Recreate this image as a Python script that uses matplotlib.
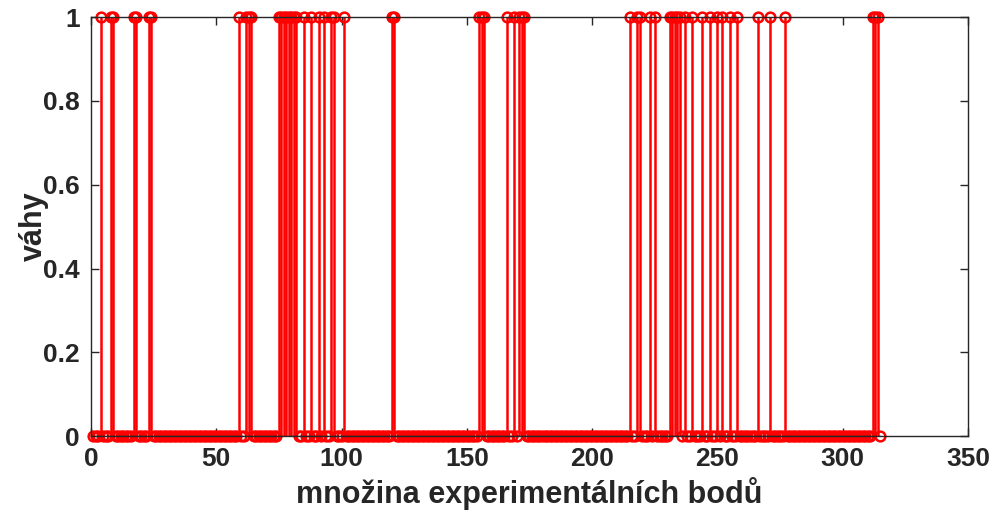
import numpy as np
import matplotlib
matplotlib.use("Agg")
import matplotlib.pyplot as plt

plt.rcParams['font.family'] = ['Liberation Sans', 'DejaVu Sans']

# experimental points and the indices with weight 1
n_points = 315
ones_idx = [4, 8, 9, 17, 18, 23, 24,
            59, 62, 63, 64,
            75, 76, 77, 78, 79, 80, 81, 82, 85, 88, 91, 93, 96, 97, 101,
            120, 121,
            155, 156, 157, 166, 169, 171, 172, 173,
            215, 218, 219, 223, 225,
            231, 232, 233, 234, 235, 237, 240, 244, 247, 250, 252, 255, 258,
            266, 271, 277,
            312, 313, 314]

x_ticks = [0, 50, 100, 150, 200, 250, 300, 350]
y_ticks = [0, 0.2, 0.4, 0.6, 0.8, 1]
y_tick_labels = ['0', '0.2', '0.4', '0.6', '0.8', '1']

x = np.arange(1, n_points + 1)
w = np.zeros(n_points)
w[np.array(ones_idx) - 1] = 1

fig = plt.figure(figsize=(9.99, 5.21), dpi=100)
ax = fig.add_axes([0.091, 0.163, 0.878, 0.804])

markerline, stemlines, baseline = ax.stem(x, w, linefmt='r-', markerfmt='ro', basefmt='k-')
markerline.set_markerfacecolor('none')
markerline.set_markersize(7)
markerline.set_markeredgewidth(1.8)
markerline.set_clip_on(False)
stemlines.set_linewidth(1.8)
baseline.set_color('#262626')
baseline.set_linewidth(1)

ax.set_xlim(0, 350)
ax.set_ylim(0, 1)
ax.set_xticks(x_ticks)
ax.set_yticks(y_ticks)
ax.set_yticklabels(y_tick_labels)
ax.tick_params(direction='in', top=True, right=True, length=6, width=1,
               labelsize=19, colors='#262626', pad=8)
for lab in ax.get_xticklabels() + ax.get_yticklabels():
    lab.set_fontweight('bold')
for s in ax.spines.values():
    s.set_color('#262626')
    s.set_linewidth(1)

ax.set_xlabel('množina experimentálních bodů', fontsize=22, fontweight='bold', color='#262626', labelpad=4)
ax.set_ylabel('váhy', fontsize=22, fontweight='bold', color='#262626', labelpad=-4)

fig.savefig('out.png', dpi=100)
